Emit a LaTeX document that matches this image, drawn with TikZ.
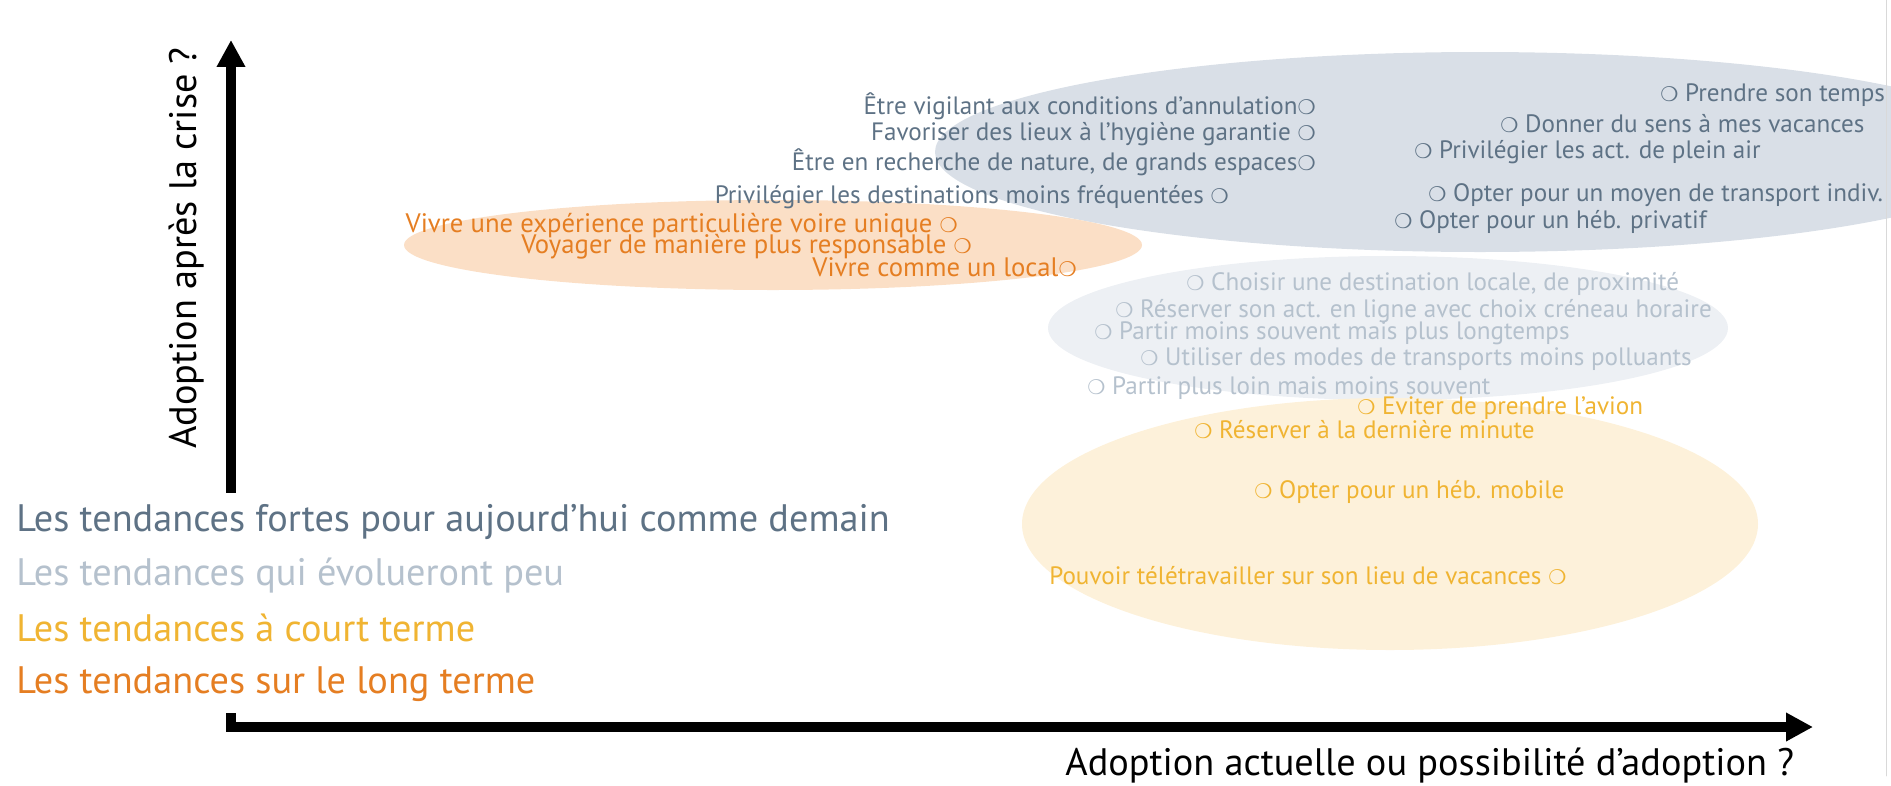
\documentclass[tikz,border=0pt]{standalone}
\usepackage{fontspec}
\setmainfont{PT Sans}
\newfontfamily\dejavu{DejaVu Sans}
\usetikzlibrary{arrows.meta}
\definecolor{xamdam}{RGB}{94,114,133}
\definecolor{xamnhat}{RGB}{181,193,205}
\definecolor{vang}{RGB}{240,180,50}
\definecolor{cam}{RGB}{229,126,34}
\definecolor{nenxam}{RGB}{217,223,231}
\definecolor{nenxamnhat}{RGB}{237,240,244}
\definecolor{nenvang}{RGB}{253,241,218}
\definecolor{nencam}{RGB}{251,223,198}
\newcommand{\vong}{{\dejavu\fontsize{11.5}{11.5}\selectfont ❍}}
\begin{document}
\begin{tikzpicture}[x=0.02cm, y=-0.02cm, line join=round, line cap=round,
	>={Triangle[length=0.54cm,width=0.54cm]},
	muc/.style={inner sep=0pt, font=\fontsize{14.3}{16}\selectfont},
	manh/.style={muc, text=xamdam},
	nhat/.style={muc, text=xamnhat},
	ngan/.style={muc, text=vang},
	dai/.style={muc, text=cam, font=\fontsize{15.2}{17}\selectfont},
	chugiai/.style={inner xsep=0pt, fill=white, minimum height=1.15cm, font=\fontsize{21.8}{24}\selectfont}]
				%Khung hình.
				\useasboundingbox (0,0) rectangle (1891,785);
				%Gán tọa độ.
				\coordinate (O) at (231,727);
				\coordinate (Y) at (231,40);
				\coordinate (X) at (1813,727);
				%Các vùng elip.
				\fill[nenxam] (1480,152) ellipse (545 and 100);
				\fill[nencam] (773,245) ellipse (369 and 45);
				\fill[nenxamnhat] (1388,328) ellipse (340 and 72);
				\fill[nenvang] (1390,524) ellipse (368 and 126);
				%Trục.
				\draw[line width=0.2cm, line join=miter, line cap=butt, <->] (Y)--(O)--(X);
				\node[rotate=90, font=\fontsize{21.8}{24}\selectfont] (laby) at (187,248) {Adoption après la crise ?};
				\node[font=\fontsize{21.8}{24}\selectfont, anchor=west, inner sep=0pt] (labx) at (1065,766) {Adoption actuelle ou possibilité d’adoption ?};
				\draw[black!15] (1886,0)--(1886,776);
				%Tendances fortes.
				\node[manh, anchor=east] (a1) at (1316,106) {Être vigilant aux conditions d’annulation\vong};
				\node[manh, anchor=east] (a2) at (1316,134) {Favoriser des lieux à l’hygiène garantie \vong};
				\node[manh, anchor=east] (a3) at (1316,162) {Être en recherche de nature, de grands espaces\vong};
				\node[manh, anchor=east] (a4) at (1229,197) {Privilégier les destinations moins fréquentées \vong};
				\node[manh, anchor=west] (a5) at (1660,95) {\vong\ Prendre son temps};
				\node[manh, anchor=west] (a6) at (1500,124) {\vong\ Donner du sens à mes vacances};
				\node[manh, anchor=west] (a7) at (1414,152) {\vong\ Privilégier les act. de plein air};
				\node[manh, anchor=west] (a8) at (1428,195) {\vong\ Opter pour un moyen de transport indiv.};
				\node[manh, anchor=west] (a9) at (1394,222) {\vong\ Opter pour un héb. privatif};
				%Long terme.
				\node[dai, anchor=east] (d1) at (958,226) {Vivre une expérience particulière voire unique \vong};
				\node[dai, anchor=east] (d2) at (972,247) {Voyager de manière plus responsable \vong};
				\node[dai, anchor=east] (d3) at (1077,267) {Vivre comme un local\vong};
				%Évolueront peu.
				\node[nhat, anchor=west] (b1) at (1186,284) {\vong\ Choisir une destination locale, de proximité};
				\node[nhat, anchor=west] (b2) at (1115,311) {\vong\ Réserver son act. en ligne avec choix créneau horaire};
				\node[nhat, anchor=west] (b3) at (1094,333) {\vong\ Partir moins souvent mais plus longtemps};
				\node[nhat, anchor=west] (b4) at (1140,359) {\vong\ Utiliser des modes de transports moins polluants};
				\node[nhat, anchor=west] (b5) at (1087,388) {\vong\ Partir plus loin mais moins souvent};
				%Court terme.
				\node[ngan, anchor=west] (c1) at (1357,408) {\vong\ Eviter de prendre l’avion};
				\node[ngan, anchor=west] (c2) at (1194,430) {\vong\ Réserver à la dernière minute};
				\node[ngan, anchor=west] (c3) at (1254,492) {\vong\ Opter pour un héb. mobile};
				\node[ngan, anchor=west] (c4) at (1049,576) {Pouvoir télétravailler sur son lieu de vacances \vong};
				%Chú giải.
				\node[chugiai, text=xamdam, anchor=west] (leg1) at (16,522) {Les tendances fortes pour aujourd’hui comme demain};
				\node[chugiai, text=xamnhat, anchor=west] (leg2) at (16,576) {Les tendances qui évolueront peu};
				\node[chugiai, text=vang, anchor=west] (leg3) at (16,628) {Les tendances à court terme};
				\node[chugiai, text=cam, anchor=west] (leg4) at (16,684) {Les tendances sur le long terme};
\end{tikzpicture}
\end{document}
